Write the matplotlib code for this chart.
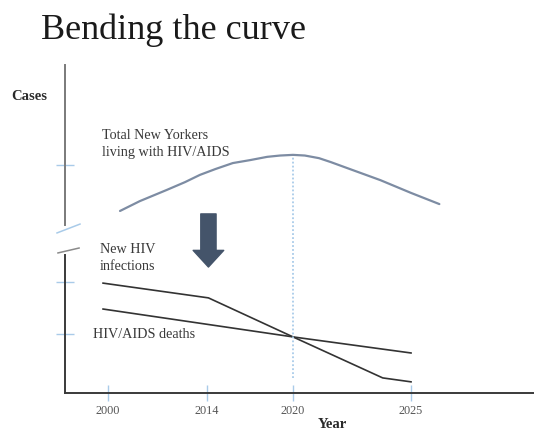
import numpy as np
import matplotlib
matplotlib.use("Agg")
import matplotlib.pyplot as plt
from matplotlib.patches import FancyArrowPatch

# schematic data (years, arbitrary "cases" units 0-100)
total_years = [2001.7, 2004.5, 2008.3, 2010.9, 2013.0, 2014.6, 2015.8, 2017.0, 2018.2, 2019.1,
               2020.0, 2020.5, 2021.1, 2021.6, 2022.4, 2023.7, 2025.0, 2026.2]
total_cases = [55.5, 58.5, 61.9, 64.3, 66.5, 68.3, 70.1, 71.0, 72.0, 72.4,
               72.6, 72.4, 71.6, 70.4, 68.3, 64.9, 61.0, 57.6]

infect_years = [1999.3, 2014.1, 2020.0, 2023.8, 2025.0]
infect_cases = [33.5, 29.0, 17.1, 4.6, 3.4]

death_years = [1999.3, 2020.0, 2025.0]
death_cases = [25.6, 17.1, 12.2]

tick_years = [2000, 2014, 2020, 2025]
tick_labels = ['2000', '2014', '2020', '2025']
case_ticks = [18.0, 33.8, 69.5]

arrow_year = 2014.1
arrow_from = 54.6
arrow_to = 38.4

# the year axis of the drawing is not linear, so use a piecewise scale
scale_years = [1990, 2000, 2014, 2020, 2025, 2035]
scale_pos = [37.3, 108, 207, 293, 411, 647]


def fwd(y):
    return np.interp(y, scale_years, scale_pos)


def inv(p):
    return np.interp(p, scale_pos, scale_years)


plt.rcParams['font.family'] = ['Liberation Serif', 'DejaVu Serif']

W, H = 534, 432
fig = plt.figure(figsize=(W / 100, H / 100), dpi=100)


def px(x, y):
    return x / W, 1 - y / H


ax = fig.add_axes([65 / W, (H - 393) / H, (W - 65) / W, 328 / H])
ax.set_xscale('function', functions=(fwd, inv))
ax.set_xlim(1993.92, 2030.21)
ax.set_ylim(0, 100)

blue = '#a9cbe9'
ax.plot(total_years, total_cases, color='#7d8ca3', lw=1.6, solid_capstyle='round',
        solid_joinstyle='round')
ax.plot(infect_years, infect_cases, color='#333333', lw=1.2)
ax.plot(death_years, death_cases, color='#333333', lw=1.2)
ax.vlines(2020, 4.6, 72.4, colors=blue, linestyles=(0, (1, 1.2)), lw=1.3)

arr = FancyArrowPatch((arrow_year, arrow_from), (arrow_year, arrow_to),
                      arrowstyle='simple,head_width=22,head_length=12,tail_width=11',
                      mutation_scale=1, shrinkA=0, shrinkB=0,
                      color='#44546a', transform=ax.transData)
ax.add_patch(arr)

for s in ['top', 'right', 'left']:
    ax.spines[s].set_visible(False)
ax.spines['bottom'].set_color('#3a3a3a')
ax.spines['bottom'].set_linewidth(1.4)

# broken y axis
yt = ax.get_yaxis_transform()
ax.plot([0, 0], [100, 51.2], color='#7a7a7a', lw=1.4, transform=yt, clip_on=False)
ax.plot([0, 0], [42.1, 0], color='#3a3a3a', lw=1.4, transform=yt, clip_on=False)
ax.plot([-0.017, 0.032], [48.8, 51.5], color=blue, lw=1.1, transform=yt, clip_on=False)
ax.plot([-0.015, 0.030], [42.7, 44.2], color='#8a8a8a', lw=1.1, transform=yt, clip_on=False)

ax.set_xticks(tick_years)
ax.set_xticklabels(tick_labels)
ax.xaxis.set_minor_locator(plt.NullLocator())
ax.tick_params(axis='x', direction='inout', length=11.5, width=1, color=blue,
               labelcolor='#555555', labelsize=8.8, pad=3)
ax.set_yticks(case_ticks)
ax.yaxis.set_minor_locator(plt.NullLocator())
ax.tick_params(axis='y', direction='inout', length=13, width=1, color=blue,
               labelleft=False)

fig.text(*px(41, 30), 'Bending the curve', fontsize=26, color='#1a1a1a', va='center', ha='left')
fig.text(*px(29, 97), 'Cases', fontsize=10.5, fontweight='bold', color='#2a2a2a', ha='center', va='center')
fig.text(*px(332, 424), 'Year', fontsize=10.5, fontweight='bold', color='#2a2a2a', ha='center', va='center')

lab = dict(fontsize=10.2, color='#3a3a3a', ha='left', va='center', linespacing=1.4)
fig.text(*px(102, 144), 'Total New Yorkers\nliving with HIV/AIDS', **lab)
fig.text(*px(100, 258), 'New HIV\ninfections', **lab)
fig.text(*px(93, 335), 'HIV/AIDS deaths', **lab)

fig.savefig('out.png', dpi=100)
